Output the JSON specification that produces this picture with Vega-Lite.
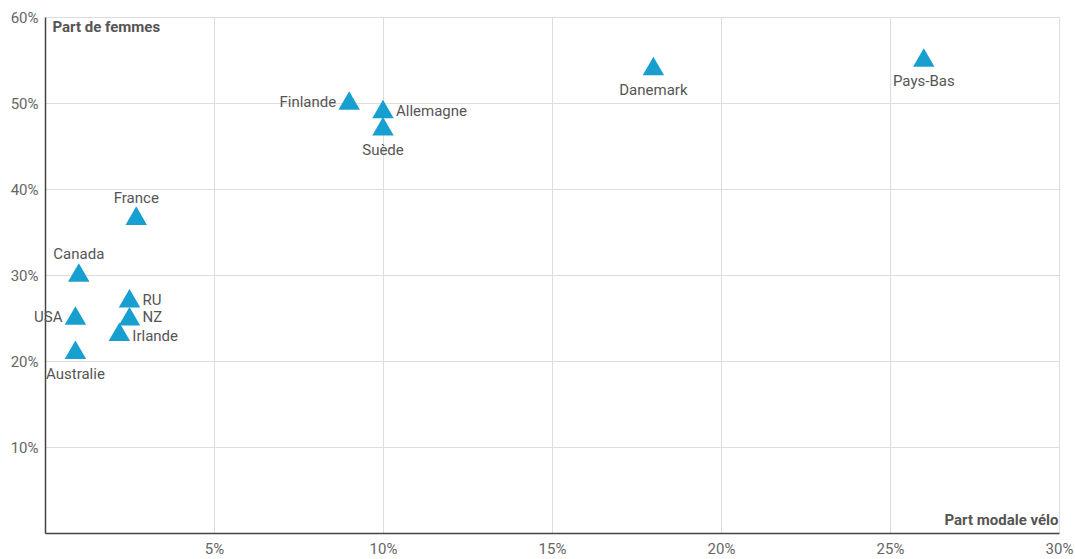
{
  "$schema": "https://vega.github.io/schema/vega-lite/v6.json",
  "width": 1014,
  "height": 516,
  "autosize": "none",
  "padding": {"left": 45, "top": 17, "right": 16, "bottom": 26},
  "background": "white",
  "config": {
    "font": "Roboto",
    "view": {"stroke": null}
  },
  "data": {
    "values": [
      {"pays": "Pays-Bas", "velo": 0.26, "femmes": 0.553},
      {"pays": "Danemark", "velo": 0.18, "femmes": 0.543},
      {"pays": "Finlande", "velo": 0.09, "femmes": 0.503},
      {"pays": "Allemagne", "velo": 0.10, "femmes": 0.493},
      {"pays": "Suède", "velo": 0.10, "femmes": 0.473},
      {"pays": "France", "velo": 0.027, "femmes": 0.369},
      {"pays": "Canada", "velo": 0.01, "femmes": 0.303},
      {"pays": "RU", "velo": 0.025, "femmes": 0.273},
      {"pays": "NZ", "velo": 0.025, "femmes": 0.252},
      {"pays": "Irlande", "velo": 0.022, "femmes": 0.234},
      {"pays": "USA", "velo": 0.009, "femmes": 0.253},
      {"pays": "Australie", "velo": 0.009, "femmes": 0.213}
    ]
  },
  "encoding": {
    "x": {
      "field": "velo", "type": "quantitative",
      "scale": {"domain": [0, 0.3], "nice": false, "zero": true},
      "axis": {
        "values": [0.05, 0.1, 0.15, 0.2, 0.25, 0.3],
        "format": ".0%",
        "title": "Part modale vélo",
        "titleAngle": 0, "titleAlign": "right", "titleBaseline": "middle",
        "titleX": 1013, "titleY": -14,
        "titleFont": "Roboto", "titleFontSize": 15, "titleFontWeight": "bold", "titleColor": "#555",
        "labelFont": "Roboto", "labelFontSize": 15, "labelColor": "#666", "labelPadding": 8,
        "labelFlush": false, "labelOverlap": false,
        "ticks": false, "domainColor": "#444", "domainWidth": 1.5,
        "grid": true, "gridColor": "#dddddd", "gridWidth": 1
      }
    },
    "y": {
      "field": "femmes", "type": "quantitative",
      "scale": {"domain": [0, 0.6], "nice": false, "zero": true},
      "axis": {
        "values": [0.1, 0.2, 0.3, 0.4, 0.5, 0.6],
        "format": ".0%",
        "title": "Part de femmes",
        "titleAngle": 0, "titleAlign": "left", "titleBaseline": "middle",
        "titleX": 7, "titleY": 9,
        "titleFont": "Roboto", "titleFontSize": 15, "titleFontWeight": "bold", "titleColor": "#555",
        "labelFont": "Roboto", "labelFontSize": 15, "labelColor": "#666", "labelPadding": 7,
        "labelFlush": false, "labelOverlap": false,
        "ticks": false, "domainColor": "#444", "domainWidth": 1.5,
        "grid": true, "gridColor": "#dddddd", "gridWidth": 1
      }
    }
  },
  "layer": [
    {
      "mark": {"type": "point", "shape": "triangle-up", "filled": true, "size": 460, "color": "#179fcf", "opacity": 1}
    },
    {
      "transform": [{"filter": {"field": "pays", "oneOf": ["Pays-Bas", "Danemark", "Suède", "Australie"]}}],
      "mark": {"type": "text", "dy": 24, "align": "center", "baseline": "middle", "font": "Roboto", "fontSize": 15, "color": "#555"},
      "encoding": {"text": {"field": "pays"}}
    },
    {
      "transform": [{"filter": {"field": "pays", "oneOf": ["France", "Canada"]}}],
      "mark": {"type": "text", "dy": -18, "align": "center", "baseline": "middle", "font": "Roboto", "fontSize": 15, "color": "#555"},
      "encoding": {"text": {"field": "pays"}}
    },
    {
      "transform": [{"filter": {"field": "pays", "oneOf": ["Finlande", "USA"]}}],
      "mark": {"type": "text", "dx": -13, "dy": 2, "align": "right", "baseline": "middle", "font": "Roboto", "fontSize": 15, "color": "#555"},
      "encoding": {"text": {"field": "pays"}}
    },
    {
      "transform": [{"filter": {"field": "pays", "oneOf": ["Allemagne", "RU"]}}],
      "mark": {"type": "text", "dx": 13, "dy": 2, "align": "left", "baseline": "middle", "font": "Roboto", "fontSize": 15, "color": "#555"},
      "encoding": {"text": {"field": "pays"}}
    },
    {
      "transform": [{"filter": {"field": "pays", "oneOf": ["NZ"]}}],
      "mark": {"type": "text", "dx": 13, "dy": 1, "align": "left", "baseline": "middle", "font": "Roboto", "fontSize": 15, "color": "#555"},
      "encoding": {"text": {"field": "pays"}}
    },
    {
      "transform": [{"filter": {"field": "pays", "oneOf": ["Irlande"]}}],
      "mark": {"type": "text", "dx": 13, "dy": 4, "align": "left", "baseline": "middle", "font": "Roboto", "fontSize": 15, "color": "#555"},
      "encoding": {"text": {"field": "pays"}}
    }
  ]
}
